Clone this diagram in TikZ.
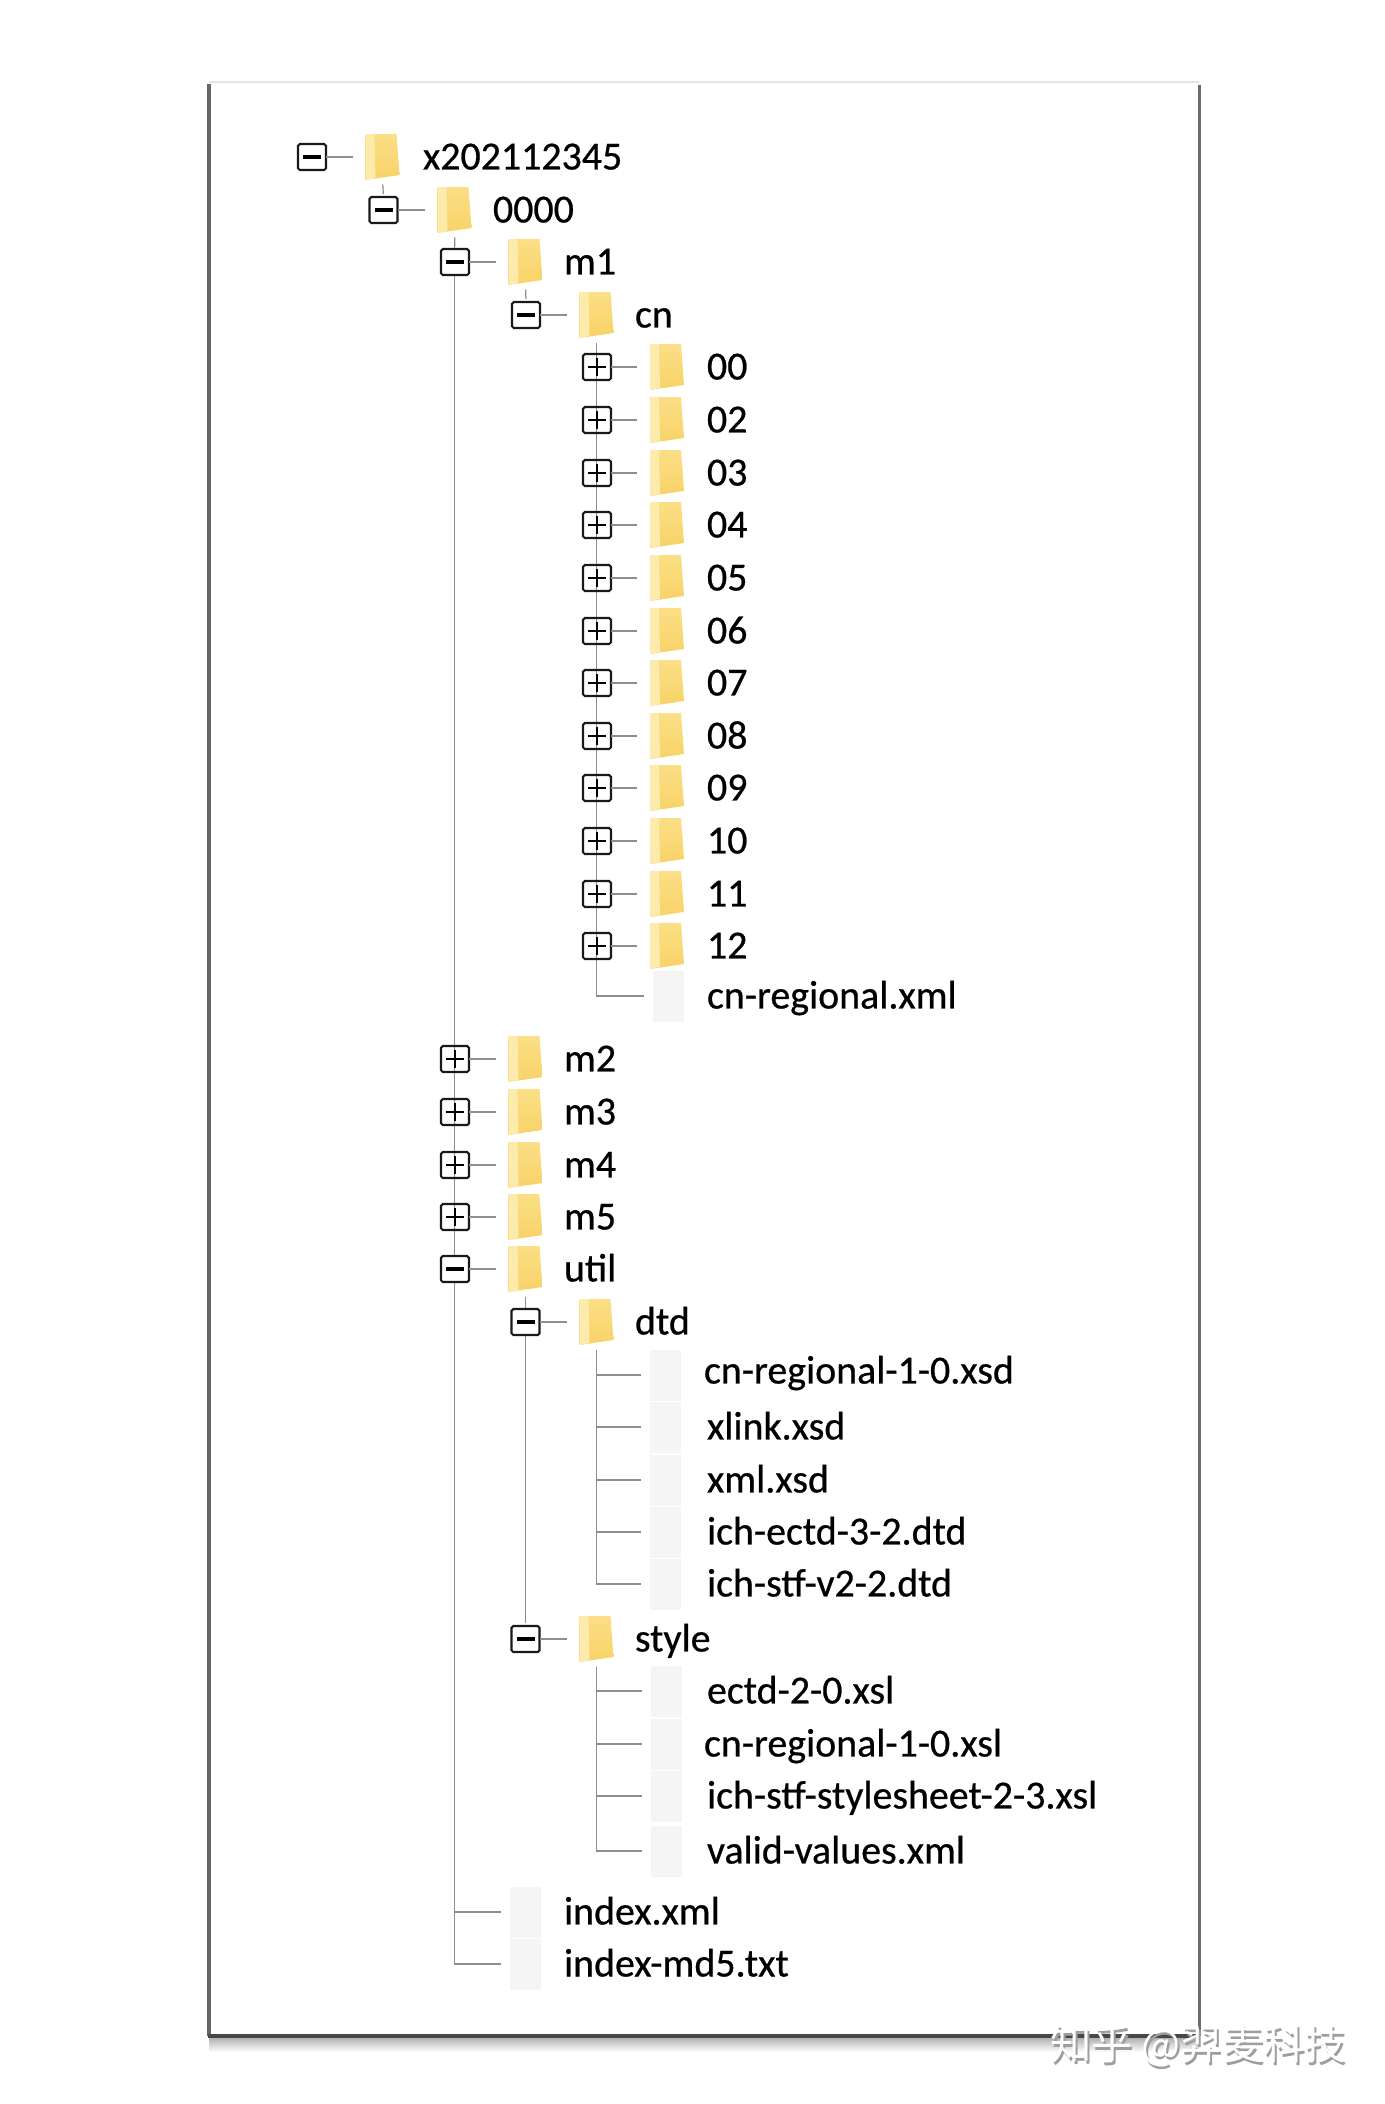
\documentclass[tikz,border=0pt]{standalone}
\usepackage{fontspec}
\setmainfont{Carlito}
\newfontfamily\cjk{Noto Sans CJK SC}
\usetikzlibrary{backgrounds}
\definecolor{foldhigh}{HTML}{FBDF86}
\definecolor{foldlow}{HTML}{F8D268}
\definecolor{foldlight}{HTML}{FDEBAE}
\definecolor{filegray}{HTML}{F5F5F5}
\definecolor{linkgray}{HTML}{8E8E8E}
\begin{document}
\begin{tikzpicture}[x=0.02cm, y=-0.02cm,
  every node/.style={inner sep=0pt, outer sep=0pt},
  boxbase/.style={draw=black!90, line width=1.2pt, rounded corners=1pt, minimum width=0.56cm, minimum height=0.52cm},
  minus/.style={boxbase, fill=white, path picture={\draw[black, line width=1.9pt] ([xshift=-0.18cm]path picture bounding box.center)--([xshift=0.18cm]path picture bounding box.center);}},
  plus/.style={boxbase, path picture={\draw[black, line width=1.6pt] ([xshift=-0.18cm]path picture bounding box.center)--([xshift=0.18cm]path picture bounding box.center); \draw[black, line width=1.6pt] ([yshift=-0.18cm]path picture bounding box.center)--([yshift=0.18cm]path picture bounding box.center);}},
  folder/.style={minimum width=0.68cm, minimum height=0.9cm, path picture={\begin{scope}[shift={(path picture bounding box.center)}]
    \shade[top color=foldhigh, bottom color=foldlow] (-17,-23)--(14,-23)--(17,18)--(-17,23)--cycle;
    \fill[foldlight] (-17,-23)--(-8,-23)--(-7,21)--(-17,23)--cycle;
    \end{scope}}},
  doc/.style={fill=filegray, minimum width=0.62cm, minimum height=1.02cm},
  txt/.style={anchor=west, font=\fontsize{22.7pt}{24pt}\selectfont\addfontfeature{FakeBold=0.6}, text=black, text height=16.5pt, text depth=2.3pt},
  lnk/.style={draw=linkgray, line width=0.7pt},
  tolabel/.style={lnk, shorten >=0.26cm},
  tofile/.style={lnk, shorten <=0.1cm, shorten >=0.18cm},
  tick/.style={lnk, shorten <=0.1cm, shorten >=0.06cm}]
\useasboundingbox (0,0) rectangle (1384,2104);
% top of the tree
\node[minus] (bRoot) at (312,157) {}; \node[folder] (fRoot) at (382.5,157) {}; \node[txt] (tRoot) at (423,157) {x202112345}; \draw[tolabel] (bRoot)--(fRoot);
\node[minus] (b0000) at (383.5,210) {}; \node[folder] (f0000) at (454.5,210) {}; \node[txt] (t0000) at (493,210) {0000}; \draw[tolabel] (b0000)--(f0000);
\node[minus] (bM1) at (455,262) {}; \node[folder] (fM1) at (525.5,262) {}; \node[txt] (tM1) at (564,262) {m1}; \draw[tolabel] (bM1)--(fM1);
\node[minus] (bCn) at (526,315) {}; \node[folder] (fCn) at (596.5,315) {}; \node[txt] (tCn) at (635,315) {cn}; \draw[tolabel] (bCn)--(fCn);
% months under cn
\node[plus] (b00) at (597,367) {}; \node[folder] (f00) at (667,367) {}; \node[txt] (t00) at (707,367) {00}; \draw[tolabel] (b00)--(f00);
\node[plus] (b02) at (597,420) {}; \node[folder] (f02) at (667,420) {}; \node[txt] (t02) at (707,420) {02}; \draw[tolabel] (b02)--(f02);
\node[plus] (b03) at (597,473) {}; \node[folder] (f03) at (667,473) {}; \node[txt] (t03) at (707,473) {03}; \draw[tolabel] (b03)--(f03);
\node[plus] (b04) at (597,525) {}; \node[folder] (f04) at (667,525) {}; \node[txt] (t04) at (707,525) {04}; \draw[tolabel] (b04)--(f04);
\node[plus] (b05) at (597,578) {}; \node[folder] (f05) at (667,578) {}; \node[txt] (t05) at (707,578) {05}; \draw[tolabel] (b05)--(f05);
\node[plus] (b06) at (597,631) {}; \node[folder] (f06) at (667,631) {}; \node[txt] (t06) at (707,631) {06}; \draw[tolabel] (b06)--(f06);
\node[plus] (b07) at (597,683) {}; \node[folder] (f07) at (667,683) {}; \node[txt] (t07) at (707,683) {07}; \draw[tolabel] (b07)--(f07);
\node[plus] (b08) at (597,736) {}; \node[folder] (f08) at (667,736) {}; \node[txt] (t08) at (707,736) {08}; \draw[tolabel] (b08)--(f08);
\node[plus] (b09) at (597,788) {}; \node[folder] (f09) at (667,788) {}; \node[txt] (t09) at (707,788) {09}; \draw[tolabel] (b09)--(f09);
\node[plus] (b10) at (597,841) {}; \node[folder] (f10) at (667,841) {}; \node[txt] (t10) at (707,841) {10}; \draw[tolabel] (b10)--(f10);
\node[plus] (b11) at (597,894) {}; \node[folder] (f11) at (667,894) {}; \node[txt] (t11) at (707,894) {11}; \draw[tolabel] (b11)--(f11);
\node[plus] (b12) at (597,946) {}; \node[folder] (f12) at (667,946) {}; \node[txt] (t12) at (707,946) {12}; \draw[tolabel] (b12)--(f12);
\node[doc] (xReg) at (668,996) {}; \node[txt] (tReg) at (707,996) {cn-regional.xml};
% m2 to util
\node[plus] (bM2) at (455,1059) {}; \node[folder] (fM2) at (525.5,1059) {}; \node[txt] (tM2) at (564,1059) {m2}; \draw[tolabel] (bM2)--(fM2);
\node[plus] (bM3) at (455,1112) {}; \node[folder] (fM3) at (525.5,1112) {}; \node[txt] (tM3) at (564,1112) {m3}; \draw[tolabel] (bM3)--(fM3);
\node[plus] (bM4) at (455,1165) {}; \node[folder] (fM4) at (525.5,1165) {}; \node[txt] (tM4) at (564,1165) {m4}; \draw[tolabel] (bM4)--(fM4);
\node[plus] (bM5) at (455,1217) {}; \node[folder] (fM5) at (525.5,1217) {}; \node[txt] (tM5) at (564,1217) {m5}; \draw[tolabel] (bM5)--(fM5);
\node[minus] (bUtil) at (455,1269) {}; \node[folder] (fUtil) at (525.5,1269) {}; \node[txt] (tUtil) at (564,1269) {util}; \draw[tolabel] (bUtil)--(fUtil);
% dtd
\node[minus] (bDtd) at (525.5,1322) {}; \node[folder] (fDtd) at (596.5,1322) {}; \node[txt] (tDtd) at (635,1322) {dtd}; \draw[tolabel] (bDtd)--(fDtd);
\node[doc] (xD1) at (665,1375) {}; \node[txt] (tD1) at (704,1371) {cn-regional-1-0.xsd};
\node[doc] (xD2) at (665,1427) {}; \node[txt] (tD2) at (707,1427) {xlink.xsd};
\node[doc] (xD3) at (665,1480) {}; \node[txt] (tD3) at (707,1480) {xml.xsd};
\node[doc] (xD4) at (665,1532) {}; \node[txt] (tD4) at (707,1532) {ich-ectd-3-2.dtd};
\node[doc] (xD5) at (665,1584) {}; \node[txt] (tD5) at (707,1584) {ich-stf-v2-2.dtd};
% style
\node[minus] (bStyle) at (525.5,1639) {}; \node[folder] (fStyle) at (596.5,1639) {}; \node[txt] (tStyle) at (635,1639) {style}; \draw[tolabel] (bStyle)--(fStyle);
\node[doc] (xS1) at (666,1691) {}; \node[txt] (tS1) at (707,1691) {ectd-2-0.xsl};
\node[doc] (xS2) at (666,1744) {}; \node[txt] (tS2) at (704,1744) {cn-regional-1-0.xsl};
\node[doc] (xS3) at (666,1796) {}; \node[txt] (tS3) at (707,1796) {ich-stf-stylesheet-2-3.xsl};
\node[doc] (xS4) at (666,1851) {}; \node[txt] (tS4) at (707,1851) {valid-values.xml};
% index files
\node[doc] (xIdx) at (525,1912) {}; \node[txt] (tIdx) at (564,1912) {index.xml};
\node[doc] (xMd5) at (525,1964) {}; \node[txt] (tMd5) at (564,1964) {index-md5.txt};
% frame and tree lines go under the nodes
\begin{scope}[on background layer]
\shade[top color=black!32, bottom color=white] (209,2037) rectangle (1199,2052);
\draw[black!10, line width=0.6pt] (209,82)--(1199,82);
\draw[black!58, line width=1.7pt] (1199,85)--(1199,2036);
\draw[black!60, line width=1.9pt] (209,84)--(209,2036);
\draw[black!72, line width=2.4pt] (208,2036)--(1200,2036);
\draw[tick] (fRoot.south)--(b0000.north);
\draw[tick] (f0000.south)--(bM1.north);
\draw[tick] (fM1.south)--(bCn.north);
\draw[tick] (fUtil.south)--(bDtd.north);
\draw[tick] (fUtil.south)--(bStyle.north);
\draw[tofile] (f0000.south) |- (xIdx); \draw[tofile] (f0000.south) |- (xMd5);
\draw[tofile] (fCn.south) |- (xReg);
\draw[tofile] (fDtd.south) |- (xD1); \draw[tofile] (fDtd.south) |- (xD2); \draw[tofile] (fDtd.south) |- (xD3); \draw[tofile] (fDtd.south) |- (xD4); \draw[tofile] (fDtd.south) |- (xD5);
\draw[tofile] (fStyle.south) |- (xS1); \draw[tofile] (fStyle.south) |- (xS2); \draw[tofile] (fStyle.south) |- (xS3); \draw[tofile] (fStyle.south) |- (xS4);
\end{scope}
% site mark
\node[anchor=west, font=\cjk\fontsize{23.5pt}{25pt}\selectfont, text=black!38] (markBack) at (1052,2048.5) {知乎 @羿麦科技};
\node[anchor=west, font=\cjk\fontsize{23.5pt}{25pt}\selectfont, text=white] (markTop) at (1050,2046) {知乎 @羿麦科技};
\end{tikzpicture}
\end{document}
